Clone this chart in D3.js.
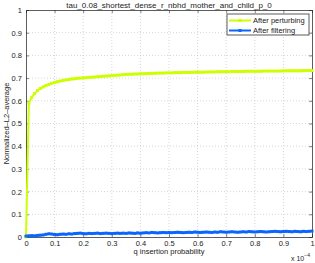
<!DOCTYPE html>
<html>
<head>
<meta charset="utf-8">
<script src="https://cdn.jsdelivr.net/npm/d3@7"></script>
<style>
body { margin: 0; background: #fff; }
svg { display: block; font-family: "Liberation Sans", Arial, sans-serif; }
</style>
</head>
<body>
<svg id="chart" width="315" height="263"></svg>
<script>
'use strict';

const title = 'tau_0.08_shortest_dense_r_nbhd_mother_and_child_p_0';
const seriesNames = ['After perturbing', 'After filtering'];
const seriesColors = ['#ccff00', '#0a64ff'];
const xTicks = [0, 0.1, 0.2, 0.3, 0.4, 0.5, 0.6, 0.7, 0.8, 0.9, 1];
const yTicks = [0, 0.1, 0.2, 0.3, 0.4, 0.5, 0.6, 0.7, 0.8, 0.9, 1];

// q insertion probability (x 10^-4), one sample every 0.01
const qValues = d3.range(101).map(i => i / 100);

const perturbing = [
	0.000, 0.590, 0.615, 0.632, 0.645, 0.654, 0.661, 0.667, 0.672, 0.677,
	0.681, 0.684, 0.687, 0.690, 0.692, 0.694, 0.696, 0.697, 0.699, 0.700,
	0.701, 0.702, 0.703, 0.704, 0.705, 0.706, 0.707, 0.708, 0.709, 0.710,
	0.711, 0.712, 0.713, 0.714, 0.715, 0.716, 0.717, 0.717, 0.718, 0.718,
	0.719, 0.719, 0.720, 0.720, 0.721, 0.721, 0.722, 0.722, 0.722, 0.723,
	0.723, 0.723, 0.724, 0.724, 0.724, 0.725, 0.725, 0.725, 0.725, 0.726,
	0.726, 0.726, 0.726, 0.727, 0.727, 0.727, 0.727, 0.728, 0.728, 0.728,
	0.728, 0.728, 0.729, 0.729, 0.729, 0.729, 0.729, 0.730, 0.730, 0.730,
	0.730, 0.730, 0.730, 0.731, 0.731, 0.731, 0.731, 0.731, 0.731, 0.731,
	0.732, 0.732, 0.732, 0.732, 0.732, 0.732, 0.732, 0.733, 0.733, 0.733,
	0.733
];

const filtering = [
	0.004, 0.005, 0.006, 0.005, 0.007, 0.008, 0.009, 0.012, 0.014, 0.013,
	0.011, 0.010, 0.012, 0.013, 0.012, 0.014, 0.013, 0.015, 0.016, 0.017,
	0.015, 0.014, 0.016, 0.015, 0.016, 0.017, 0.015, 0.016, 0.017, 0.016,
	0.015, 0.016, 0.017, 0.016, 0.017, 0.016, 0.018, 0.017, 0.016, 0.018,
	0.017, 0.018, 0.019, 0.018, 0.020, 0.019, 0.018, 0.019, 0.020, 0.019,
	0.020, 0.019, 0.020, 0.021, 0.020, 0.019, 0.020, 0.021, 0.020, 0.022,
	0.021, 0.020, 0.021, 0.022, 0.021, 0.020, 0.022, 0.021, 0.023, 0.022,
	0.021, 0.022, 0.023, 0.022, 0.021, 0.022, 0.023, 0.022, 0.024, 0.023,
	0.022, 0.023, 0.024, 0.023, 0.022, 0.023, 0.024, 0.025, 0.024, 0.023,
	0.024, 0.025, 0.024, 0.023, 0.025, 0.024, 0.023, 0.025, 0.024, 0.025,
	0.026
];

const margin = {top: 10, right: 3, bottom: 26, left: 26};
const W = 315, H = 263;
const width = W - margin.left - margin.right;
const height = H - margin.top - margin.bottom;

const $svg = d3.select('#chart');
const $g = $svg.append('g')
	.attr('transform', 'translate(' + margin.left + ',' + margin.top + ')');

const x = d3.scaleLinear().domain([0, 1]).range([0, width]);
const y = d3.scaleLinear().domain([0, 1]).range([height, 0]);

// grid
$g.append('g')
	.selectAll('line')
	.data(xTicks.slice(1, -1))
	.join('line')
	.attr('x1', d => x(d)).attr('x2', d => x(d))
	.attr('y1', 0).attr('y2', height)
	.attr('stroke', '#bbb').attr('stroke-width', 0.6)
	.attr('stroke-dasharray', '1,2');

$g.append('g')
	.selectAll('line')
	.data(yTicks.slice(1, -1))
	.join('line')
	.attr('x1', 0).attr('x2', width)
	.attr('y1', d => y(d)).attr('y2', d => y(d))
	.attr('stroke', '#bbb').attr('stroke-width', 0.6)
	.attr('stroke-dasharray', '1,2');

// axes (matlab style: ticks inside, box around)
const xAxis = d3.axisBottom(x).tickValues(xTicks).tickSize(-3).tickPadding(4)
	.tickFormat(d3.format('~g'));
const yAxis = d3.axisLeft(y).tickValues(yTicks).tickSize(-3).tickPadding(4)
	.tickFormat(d3.format('~g'));

$g.append('g').attr('transform', 'translate(0,' + height + ')').call(xAxis);
$g.append('g').call(yAxis);
$g.append('g').call(d3.axisTop(x).tickValues(xTicks).tickSize(-3).tickFormat(''));
$g.append('g').attr('transform', 'translate(' + width + ',0)')
	.call(d3.axisRight(y).tickValues(yTicks).tickSize(-3).tickFormat(''));

$g.selectAll('.domain').attr('stroke', '#333').attr('stroke-width', 0.8);
$g.selectAll('.tick line').attr('stroke', '#333').attr('stroke-width', 0.6);
$g.selectAll('.tick text').attr('font-size', 7.5).attr('fill', '#222')
	.attr('font-family', '"Liberation Sans", Arial, sans-serif');

// series
const line = d3.line().x((d, i) => x(qValues[i])).y(d => y(d));

[perturbing, filtering].forEach((vals, k) => {
	$g.append('path')
		.datum(vals)
		.attr('d', line)
		.attr('fill', 'none')
		.attr('stroke', seriesColors[k])
		.attr('stroke-width', 2);
	$g.append('g')
		.selectAll('rect')
		.data(vals)
		.join('rect')
		.attr('x', (d, i) => x(qValues[i]) - 1.5)
		.attr('y', d => y(d) - 1.5)
		.attr('width', 3).attr('height', 3)
		.attr('fill', seriesColors[k]);
});

// title & labels
$svg.append('text')
	.attr('x', margin.left + width / 2).attr('y', 7.5)
	.attr('text-anchor', 'middle')
	.attr('font-size', 8).attr('fill', '#222')
	.text(title);

$svg.append('text')
	.attr('transform', 'translate(9,' + (margin.top + height / 2) + ') rotate(-90)')
	.attr('text-anchor', 'middle')
	.attr('font-size', 7.5).attr('fill', '#222')
	.text('Normalized\u2013L2\u2013average');

$svg.append('text')
	.attr('x', margin.left + width / 2).attr('y', 254)
	.attr('text-anchor', 'middle')
	.attr('font-size', 7.5).attr('fill', '#222')
	.text('q insertion probability');

const $exp = $svg.append('text')
	.attr('x', 291).attr('y', 261)
	.attr('font-size', 7).attr('fill', '#222');
$exp.append('tspan').text('x 10');
$exp.append('tspan').attr('dy', -4).attr('font-size', 5).text('\u22124');

// legend
const $leg = $svg.append('g').attr('transform', 'translate(227,14)');
$leg.append('rect')
	.attr('width', 82).attr('height', 21)
	.attr('fill', '#fff').attr('stroke', '#333').attr('stroke-width', 0.8);

const $items = $leg.selectAll('g.item')
	.data(seriesNames)
	.join('g')
	.attr('class', 'item')
	.attr('transform', (d, i) => 'translate(0,' + (6.5 + i * 10) + ')');

$items.append('line')
	.attr('x1', 2).attr('x2', 24)
	.attr('stroke', (d, i) => seriesColors[i]).attr('stroke-width', 2);
$items.append('rect')
	.attr('x', 11.5).attr('y', -1.5).attr('width', 3).attr('height', 3)
	.attr('fill', (d, i) => seriesColors[i]);
$items.append('text')
	.attr('x', 26).attr('dy', '0.35em')
	.attr('font-size', 7.5).attr('fill', '#222')
	.text(d => d);
</script>
</body>
</html>
